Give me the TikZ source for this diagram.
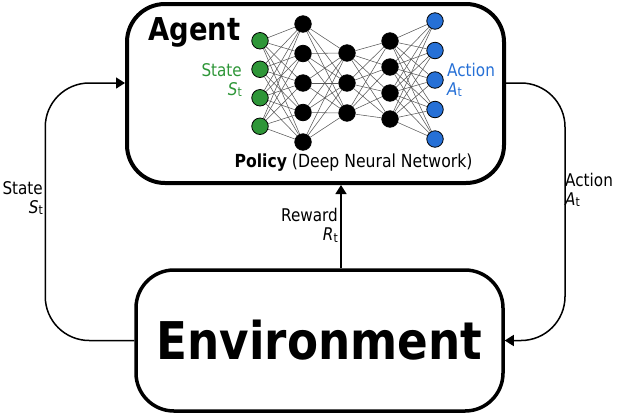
\documentclass[tikz,border=0pt]{standalone}
\usepackage{fontspec}
\setmainfont{DejaVu Sans}[FakeStretch=0.87]
\usetikzlibrary{arrows.meta,positioning}

\definecolor{stategreen}{RGB}{46,150,56}
\definecolor{actblue}{RGB}{38,112,214}
\newcommand\tvar[1]{\textit{#1}\raisebox{-0.15ex}{\fontsize{12.5}{12.5}\selectfont t}}

\begin{document}
\begin{tikzpicture}[x=1pt,y=-1pt,
  box/.style={draw,line width=3.5pt,rounded corners=38pt,inner sep=0pt},
  neuron/.style={circle,draw,line width=0.8pt,minimum size=16.5pt,inner sep=0pt},
  synapse/.style={draw=black!65,line width=0.55pt},
  flow/.style={line width=1.5pt,-{Triangle[length=9pt,width=11pt]}},
  lbl/.style={font=\fontsize{17.5}{19}\selectfont,inner sep=1pt}]
  \useasboundingbox (0,0) rectangle (617,416);

  \node [box,line width=4pt,minimum width=377pt,minimum height=179pt] (agent) at (315.5,93.5) {};
  \node [box,minimum width=367pt,minimum height=141pt,
         font=\bfseries\fontsize{52}{56}\selectfont] (env) at (319.5,340.5) {Environment};
  \node [anchor=base west,inner sep=0pt,font=\bfseries\fontsize{31.5}{34}\selectfont] (agtxt) at (148,40) {Agent};

  \foreach \y [count=\i] in {40.75,69.25,97.75,126.25}
    \node [neuron,fill=stategreen] (s\i) at (260,\y) {};
  \foreach \y [count=\i] in {24,53.5,83,112.5,142}
    \node [neuron,fill=black] (p\i) at (303,\y) {};
  \foreach \y [count=\i] in {53,83,113}
    \node [neuron,fill=black] (q\i) at (347,\y) {};
  \foreach \y [count=\i] in {41,67,93,119}
    \node [neuron,fill=black] (r\i) at (390,\y) {};
  \foreach \y [count=\i] in {21,50.5,80,109.5,139}
    \node [neuron,fill=actblue] (a\i) at (435,\y) {};

  \foreach \i in {1,...,4} \foreach \j in {1,...,5} \draw [synapse] (s\i) -- (p\j);
  \foreach \i in {1,...,5} \foreach \j in {1,...,3} \draw [synapse] (p\i) -- (q\j);
  \foreach \i in {1,...,3} \foreach \j in {1,...,4} \draw [synapse] (q\i) -- (r\j);
  \foreach \i in {1,...,4} \foreach \j in {1,...,5} \draw [synapse] (r\i) -- (a\j);

  \node [lbl,text=stategreen,align=right,anchor=east] (stin) at (243,80) {State\\\tvar{S}};
  \node [lbl,text=actblue,align=left,anchor=west] (actout) at (446,80) {Action\\\tvar{A}};
  \node [anchor=base,inner sep=0pt,font=\fontsize{18}{20}\selectfont] (policy) at (353.5,167)
    {\textbf{Policy} (Deep Neural Network)};

  \draw [flow,rounded corners=44pt] (env.west) -- ++(-89,0) -- ++(0,-257.5) -- ([yshift=10.5pt]agent.west);
  \draw [flow,rounded corners=44pt] ([yshift=10.5pt]agent.east) -- ++(59,0) -- ++(0,257.5) -- (env.east);
  \draw [flow] ([xshift=21.5pt]env.north) -- ([xshift=21.5pt]env.north |- agent.south);

  \node [lbl,align=right,anchor=east] (stlbl) at (44,198) {State\\\tvar{S}};
  \node [lbl,align=left,anchor=west] (actlbl) at (564,190) {Action\\\tvar{A}};
  \node [lbl,align=right,anchor=east] (rwlbl) at (339,225.5) {Reward\\\tvar{R}};
\end{tikzpicture}
\end{document}
